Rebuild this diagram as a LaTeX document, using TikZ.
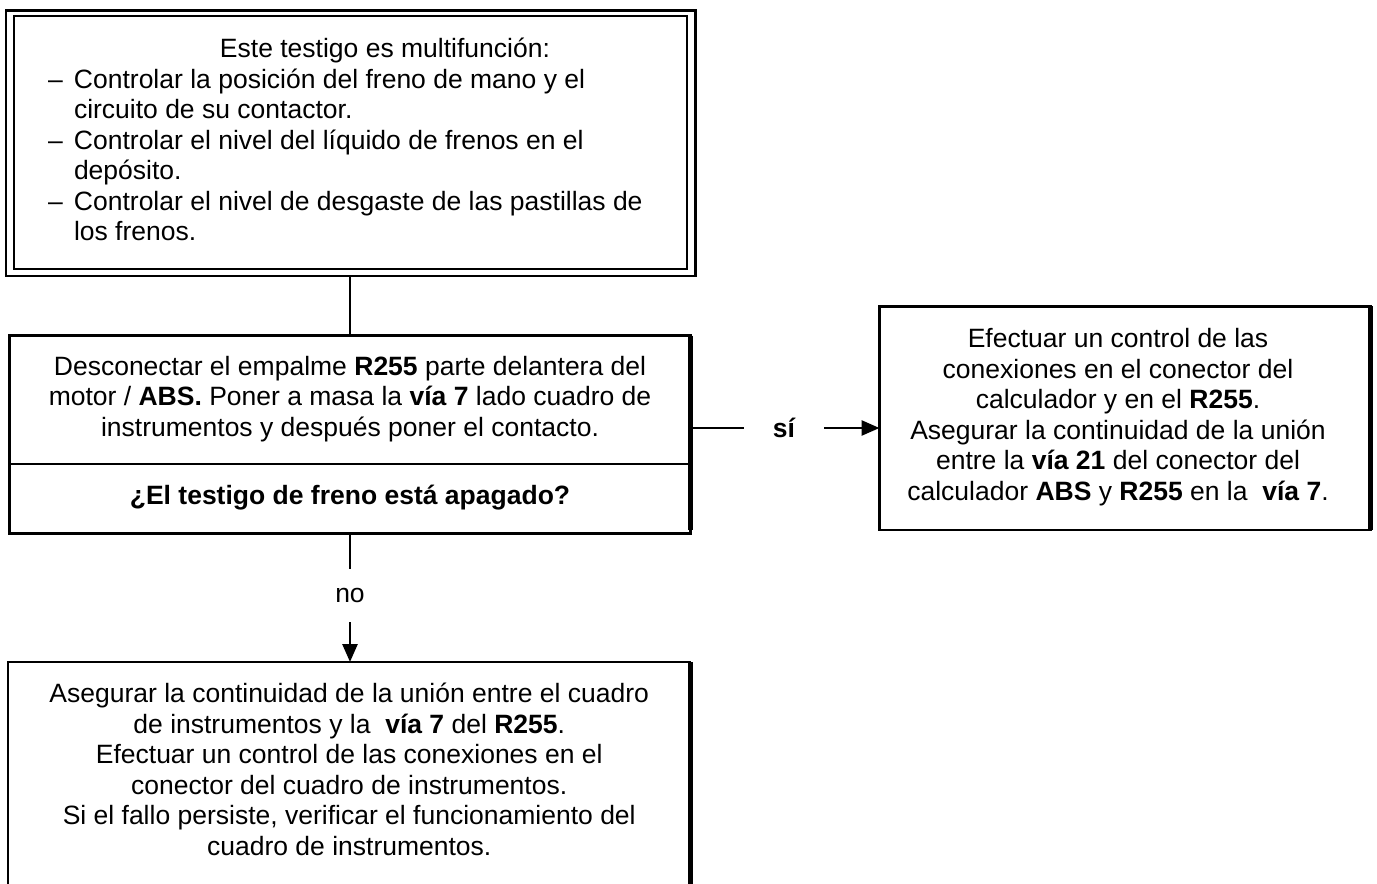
\documentclass[tikz,border=0pt]{standalone}
\usepackage{fontspec}
\setmainfont{Liberation Sans}
\usetikzlibrary{arrows.meta}
\tikzset{
  bline/.style={line width=2.8pt},
  thickside/.style={line width=5.5pt},
  conn/.style={line width=2.7pt},
  arr/.style={-{Triangle[length=18pt,width=15pt]}},
  txt/.style={font=\fontsize{26.5pt}{30.5pt}\selectfont, inner sep=0pt, outer sep=0pt},
  box/.style={draw, line width=2.8pt, inner sep=0pt, outer sep=0pt},
}
\begin{document}
\begin{tikzpicture}[x=1pt,y=-1pt]
\useasboundingbox (0,0) rectangle (1377,884);
\fill[white] (0,0) rectangle (1377,884);

% top box (double border)
\node[box, line width=2.4pt, minimum width=689.3pt, minimum height=265.9pt] (top) at (350.85,143.25) {};
\draw[line width=2.4pt] ([shift={(7.5pt,-5.5pt)}]top.north west) rectangle ([shift={(-8.8pt,7.4pt)}]top.south east);
\node[txt, align=left, anchor=west] (toptext) at (48,143) {\hspace*{172pt}\strut Este testigo es multifunción:\\
\makebox[26pt][l]{–}Controlar la posición del freno de mano y el\\
\hspace*{26pt}circuito de su contactor.\\
\makebox[26pt][l]{–}Controlar el nivel del líquido de frenos en el\\
\hspace*{26pt}depósito.\\
\makebox[26pt][l]{–}Controlar el nivel de desgaste de las pastillas de\\
\hspace*{26pt}los frenos.\strut};

% decision box
\node[box, txt, line width=2.8pt, minimum width=681pt, minimum height=128.5pt, align=center] (act) at (350,399.75)
  {\strut Desconectar el empalme \textbf{R255} parte delantera del\\
   motor / \textbf{ABS.} Poner a masa la \textbf{vía 7} lado cuadro de\\
   instrumentos y después poner el contacto.\strut};
\node[box, txt, line width=2.8pt, minimum width=681pt, minimum height=69.3pt, align=center] (ask) at (350,498.65)
  {\strut\textbf{¿El testigo de freno está apagado?}\strut};
\draw[thickside] (act.north east) -- ([yshift=3pt]ask.south east);

% result box (right)
\node[box, minimum width=491pt, minimum height=223.8pt] (res) at (1125,418.1) {};
\draw[line width=4.5pt] (res.north east) -- (res.south east);
\node[txt, align=center] (restext) at (1118,418)
  {\strut Efectuar un control de las\\
   conexiones en el conector del\\
   calculador y en el \textbf{R255}.\\
   Asegurar la continuidad de la unión\\
   entre la \textbf{vía 21} del conector del\\
   calculador \textbf{ABS} y \textbf{R255} en la \ \textbf{vía 7}.\strut};

% final box (bottom, open at the lower edge)
\node[txt, minimum width=682.5pt, minimum height=222pt, align=center] (fin) at (349.25,773)
  {\strut Asegurar la continuidad de la unión entre el cuadro\\
   de instrumentos y la \ \textbf{vía 7} del \textbf{R255}.\\
   Efectuar un control de las conexiones en el\\
   conector del cuadro de instrumentos.\\
   Si el fallo persiste, verificar el funcionamiento del\\
   cuadro de instrumentos.\strut};
\draw[bline] (fin.south west) -- (fin.north west) -- (fin.north east);
\draw[thickside] (fin.north east) -- (fin.south east);

% connectors
\draw[conn] (act.north |- top.south) -- (act.north);
\node[txt, font=\fontsize{26.5pt}{30.5pt}\selectfont\bfseries, inner xsep=29pt] (si) at (784,428) {sí};
\draw[conn] (act.east |- si.west) -- (si.west);
\draw[conn, arr] (si.east) -- (res.west |- si.east);
\node[txt, minimum height=53pt] (no) at (350,595.5) {no};
\draw[conn] (ask.south) -- (no.north);
\draw[conn, arr] (no.south) -- (no.south |- fin.north);
\end{tikzpicture}
\end{document}
